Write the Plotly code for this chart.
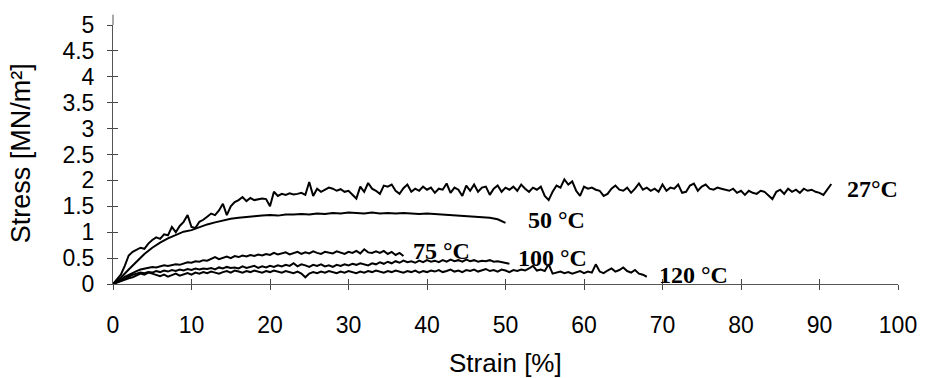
import plotly.graph_objects as go

# ---------------- data ----------------
step_27 = 0.5
stress_27 = [
    0.00, 0.08, 0.18, 0.35, 0.55, 0.62, 0.66, 0.70, 0.68, 0.78,
    0.85, 0.90, 0.87, 0.96, 0.94, 1.10, 1.00, 1.12, 1.20, 1.33,
    1.10, 1.08, 1.20, 1.24, 1.30, 1.36, 1.33, 1.42, 1.55, 1.33,
    1.50, 1.58, 1.62, 1.68, 1.60, 1.66, 1.62, 1.63, 1.65, 1.64,
    1.50, 1.78, 1.70, 1.74, 1.72, 1.75, 1.73, 1.74, 1.76, 1.72,
    1.97, 1.70, 1.84, 1.78, 1.82, 1.86, 1.84, 1.80, 1.83, 1.78,
    1.80, 1.72, 1.65, 1.88, 1.78, 1.95, 1.84, 1.80, 1.74, 1.90,
    1.88, 1.92, 1.80, 1.74, 1.85, 1.92, 1.78, 1.84, 1.80, 1.88,
    1.82, 1.86, 1.76, 1.84, 1.82, 1.94, 1.76, 1.86, 1.82, 1.70,
    1.90, 1.80, 1.92, 1.78, 1.86, 1.88, 1.72, 1.84, 1.90, 1.78,
    1.86, 1.82, 1.88, 1.80, 1.92, 1.84, 1.78, 1.86, 1.82, 1.88,
    1.70, 1.62, 1.78, 1.90, 1.86, 2.02, 1.92, 1.98, 1.80, 1.70,
    1.88, 1.84, 1.86, 1.82, 1.80, 1.70, 1.74, 1.84, 1.90, 1.82,
    1.80, 1.86, 1.76, 1.84, 1.94, 1.82, 1.86, 1.80, 1.84, 1.78,
    1.92, 1.80, 1.86, 1.84, 1.92, 1.76, 1.78, 1.90, 1.94, 1.80,
    1.88, 1.92, 1.84, 1.82, 1.86, 1.84, 1.82, 1.80, 1.84, 1.76,
    1.80, 1.72, 1.80, 1.76, 1.74, 1.80, 1.78, 1.70, 1.64, 1.78,
    1.82, 1.74, 1.84, 1.78, 1.82, 1.76, 1.84, 1.80, 1.82, 1.78,
    1.76, 1.72, 1.82, 1.93,
]

step_50 = 1.0
stress_50 = [
    0.00, 0.12, 0.28, 0.44, 0.58, 0.70, 0.80, 0.88, 0.95, 1.01,
    1.04, 1.10, 1.15, 1.19, 1.23, 1.26, 1.28, 1.30, 1.31, 1.32,
    1.33, 1.32, 1.34, 1.34, 1.35, 1.34, 1.36, 1.35, 1.37, 1.36,
    1.38, 1.37, 1.36, 1.38, 1.36, 1.37, 1.36, 1.37, 1.36, 1.35,
    1.36, 1.35, 1.35, 1.34, 1.33, 1.31, 1.30, 1.29, 1.28, 1.25,
    1.18,
]

step_75 = 0.5
stress_75 = [
    0.00, 0.04, 0.08, 0.14, 0.18, 0.22, 0.25, 0.28, 0.30, 0.31,
    0.33, 0.32, 0.34, 0.36, 0.35, 0.37, 0.38, 0.37, 0.39, 0.42,
    0.41, 0.44, 0.43, 0.46, 0.45, 0.49, 0.52, 0.48, 0.50, 0.53,
    0.50, 0.54, 0.52, 0.55, 0.53, 0.56, 0.54, 0.57, 0.55, 0.58,
    0.56, 0.60, 0.57, 0.59, 0.61, 0.57, 0.60, 0.62, 0.58, 0.61,
    0.59, 0.63, 0.60, 0.58, 0.62, 0.60, 0.59, 0.63, 0.61, 0.58,
    0.62, 0.60, 0.64, 0.59, 0.67, 0.61, 0.60, 0.63, 0.60, 0.64,
    0.58, 0.62, 0.56, 0.60, 0.54,
]

step_100 = 0.5
stress_100 = [
    0.00, 0.03, 0.06, 0.10, 0.14, 0.18, 0.20, 0.22, 0.21, 0.23,
    0.22, 0.25, 0.23, 0.26, 0.24, 0.27, 0.25, 0.28, 0.26, 0.29,
    0.27, 0.30, 0.28, 0.30, 0.29, 0.31, 0.28, 0.32, 0.30, 0.33,
    0.31, 0.32, 0.30, 0.34, 0.31, 0.33, 0.35, 0.31, 0.34, 0.32,
    0.35, 0.33, 0.36, 0.34, 0.37, 0.35, 0.40, 0.34, 0.38, 0.36,
    0.33, 0.37, 0.35, 0.38, 0.34, 0.36, 0.33, 0.37, 0.35, 0.38,
    0.36, 0.39, 0.37, 0.40, 0.38, 0.36, 0.40, 0.38, 0.42, 0.39,
    0.43, 0.40, 0.44, 0.41, 0.45, 0.42, 0.44, 0.41, 0.45, 0.42,
    0.46, 0.43, 0.45, 0.42, 0.46, 0.43, 0.47, 0.44, 0.46, 0.43,
    0.47, 0.44, 0.46, 0.43, 0.45, 0.44, 0.46, 0.43, 0.44, 0.42,
    0.41, 0.39,
]

step_120 = 0.5
stress_120 = [
    0.00, 0.03, 0.05, 0.08, 0.11, 0.13, 0.16, 0.20, 0.18, 0.22,
    0.20, 0.17, 0.15, 0.18, 0.14, 0.17, 0.20, 0.16, 0.19, 0.21,
    0.18, 0.22, 0.20, 0.23, 0.21, 0.24, 0.22, 0.20, 0.23, 0.25,
    0.22, 0.26, 0.24, 0.22, 0.25, 0.23, 0.26, 0.24, 0.22, 0.25,
    0.23, 0.26, 0.24, 0.22, 0.25, 0.23, 0.21, 0.24, 0.20, 0.13,
    0.20, 0.23, 0.21, 0.24, 0.22, 0.25, 0.23, 0.21, 0.24, 0.22,
    0.25, 0.23, 0.21, 0.24, 0.22, 0.25, 0.23, 0.26, 0.24, 0.22,
    0.25, 0.23, 0.26, 0.24, 0.22, 0.25, 0.23, 0.26, 0.22, 0.25,
    0.23, 0.26, 0.24, 0.27, 0.23, 0.25, 0.28, 0.24, 0.26, 0.23,
    0.27, 0.25, 0.28, 0.24, 0.26, 0.29, 0.25, 0.27, 0.24, 0.28,
    0.26, 0.23, 0.27, 0.25, 0.28, 0.26, 0.30, 0.35, 0.26, 0.28,
    0.25, 0.38, 0.20, 0.22, 0.24, 0.21, 0.23, 0.20, 0.22, 0.25,
    0.21, 0.24, 0.22, 0.38, 0.24, 0.21, 0.26, 0.30, 0.24, 0.27,
    0.32, 0.25, 0.22, 0.27, 0.20, 0.18, 0.14,
]

series = [
    ("27°C", step_27, stress_27),
    ("50 °C", step_50, stress_50),
    ("75 °C", step_75, stress_75),
    ("100 °C", step_100, stress_100),
    ("120 °C", step_120, stress_120),
]

# label anchor positions (data coordinates)
label_text = ["27°C", "50 °C", "75 °C", "100 °C", "120 °C"]
label_x = [93.3, 52.6, 38.0, 51.4, 69.3]
label_y = [1.83, 1.24, 0.64, 0.50, 0.18]

x_ticks = [0, 10, 20, 30, 40, 50, 60, 70, 80, 90, 100]
y_ticks = [0, 0.5, 1, 1.5, 2, 2.5, 3, 3.5, 4, 4.5, 5]
y_tick_text = ["0", "0.5", "1", "1.5", "2", "2.5", "3", "3.5", "4", "4.5", "5"]

# ---------------- figure ----------------
fig = go.Figure()
for name, step, ys in series:
    xs = [i * step for i in range(len(ys))]
    fig.add_trace(go.Scatter(x=xs, y=ys, mode="lines", name=name,
                             line=dict(color="black", width=2),
                             showlegend=False, hoverinfo="skip"))

for t, lx, ly in zip(label_text, label_x, label_y):
    fig.add_annotation(x=lx, y=ly, text="<b>" + t + "</b>", showarrow=False,
                       xanchor="left", yanchor="middle",
                       font=dict(family="Liberation Serif", size=24, color="black"))

axis_font = dict(family="Liberation Sans", size=23, color="black")

fig.update_layout(
    width=929, height=378,
    margin=dict(l=113, r=29, t=19, b=94),
    paper_bgcolor="white", plot_bgcolor="white",
    xaxis=dict(range=[0, 100], tickvals=x_ticks, ticks="outside", ticklen=5,
               tickcolor="#444", showline=True, linecolor="#555", linewidth=1,
               showgrid=False, zeroline=False, tickfont=axis_font,
               ticklabelstandoff=15),
    yaxis=dict(range=[0, 5], tickvals=y_ticks, ticktext=y_tick_text,
               ticks="outside", ticklen=5, tickcolor="#444", showline=True,
               linecolor="#555", linewidth=1, showgrid=False, zeroline=False,
               tickfont=axis_font, ticklabelstandoff=8),
    xaxis2=dict(range=[0, 100], tickvals=x_ticks, ticks="inside", ticklen=5,
                tickcolor="#444", showticklabels=False, showline=False,
                showgrid=False, zeroline=False, overlaying="x", side="bottom",
                anchor="y"),
    yaxis2=dict(range=[0, 5], tickvals=y_ticks, ticks="inside", ticklen=5,
                tickcolor="#444", showticklabels=False, showline=False,
                showgrid=False, zeroline=False, overlaying="y", side="left",
                anchor="x"),
    shapes=[dict(type="line", xref="paper", yref="paper", x0=0, x1=0,
                 y0=1, y1=1.04, line=dict(color="#555", width=1))],
)
# dummy trace to activate overlay axes
fig.add_trace(go.Scatter(x=[None], y=[None], xaxis="x2", yaxis="y2",
                         showlegend=False, hoverinfo="skip"))

fig.add_annotation(text="Strain [%]", xref="paper", yref="paper",
                   x=(506 - 113) / (929 - 113 - 29), y=-(365 - 284) / (378 - 19 - 94),
                   xanchor="center", yanchor="middle", showarrow=False,
                   font=dict(family="Liberation Sans", size=26, color="black"))
fig.add_annotation(text="Stress [MN/m²]", xref="paper", yref="paper",
                   x=-(113 - 21) / (929 - 113 - 29), y=(284 - 150) / (378 - 19 - 94),
                   xanchor="center", yanchor="middle", textangle=-90, showarrow=False,
                   font=dict(family="Liberation Sans", size=27, color="black"))

fig.write_html("out.html")
